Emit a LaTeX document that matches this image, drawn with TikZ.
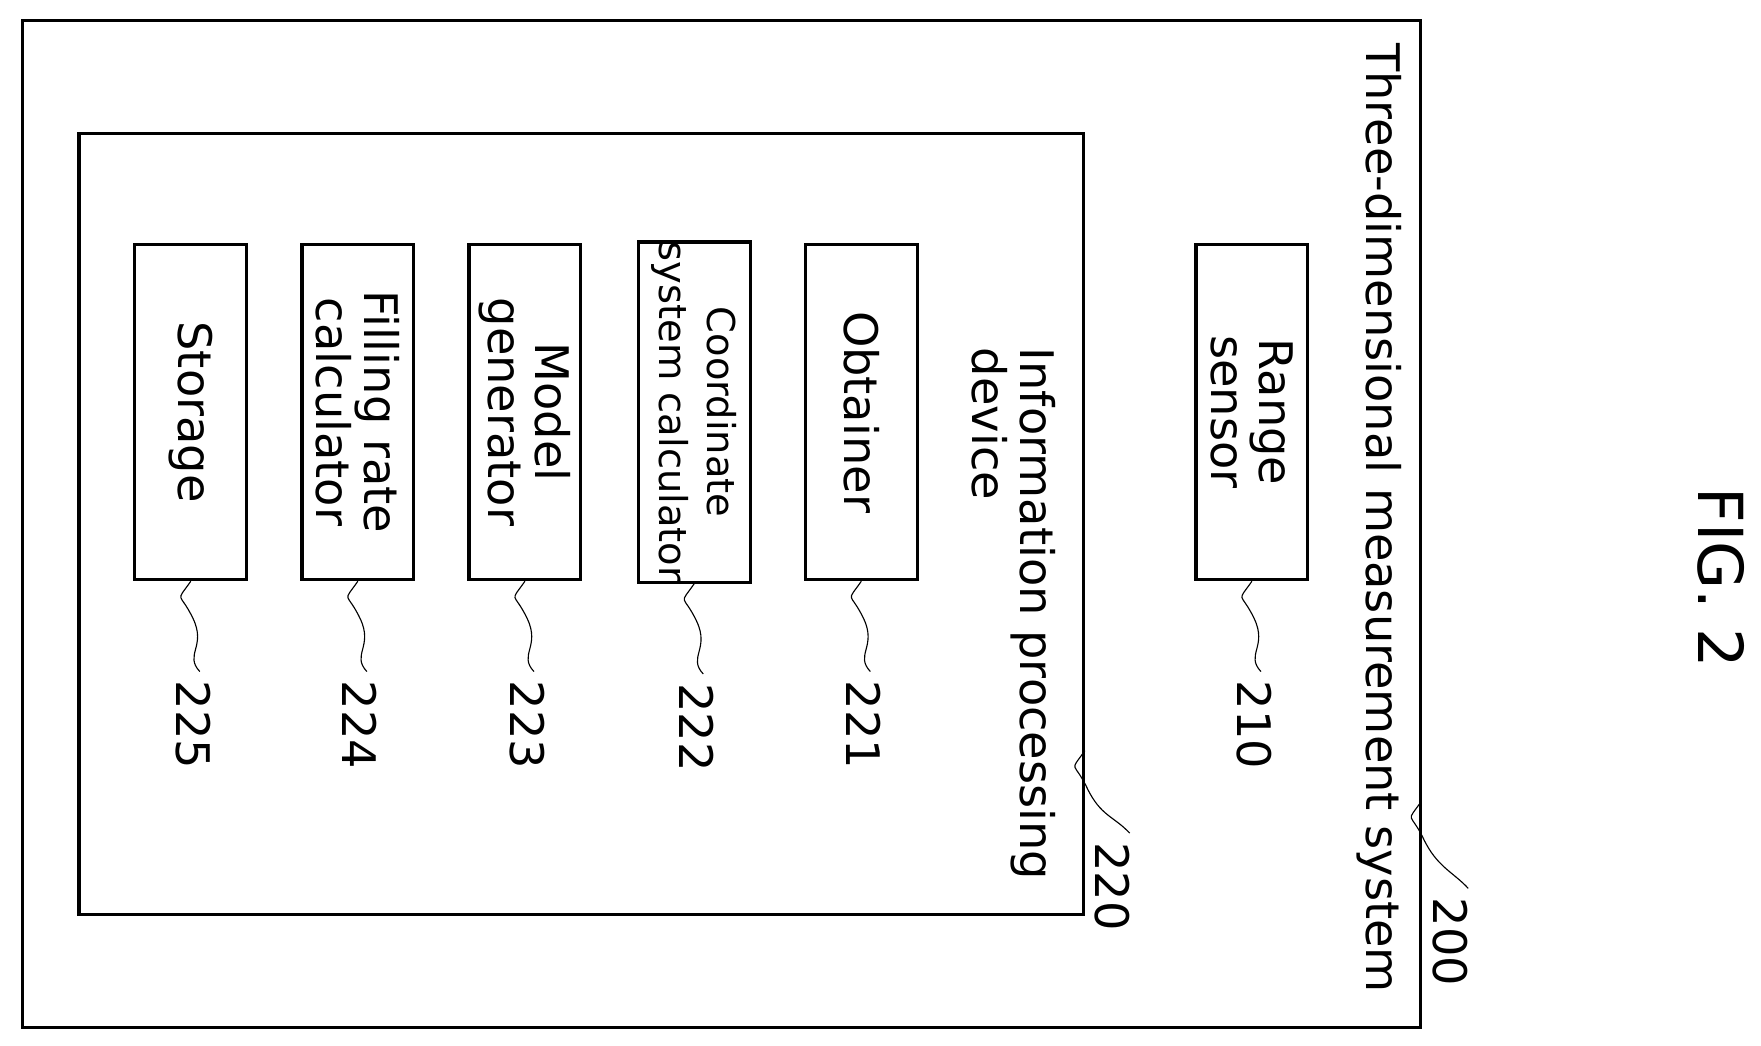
\documentclass[tikz,border=0pt]{standalone}
\usepackage{fontspec}
\setmainfont{DejaVu Sans}
\usetikzlibrary{positioning}

\tikzset{
  unit/.style={draw,line width=2.8pt,rotate=-90,minimum width=297pt,minimum height=99pt,
    inner sep=0pt,align=center,font=\fontsize{41}{42}\selectfont},
  lbl/.style={rotate=-90,anchor=west,inner sep=0pt,font=\fontsize{41}{42}\selectfont},
  lead/.style={line width=1pt}
}
% wavy leader line from a box to its reference number
\newcommand{\leader}[2]{\draw[lead] (#1) .. controls ++(-14,20) and ++(-12,-25) .. ++(2,33) .. controls ++(12,25) and ++(-14,-15) .. (#2);}

\begin{document}
\begin{tikzpicture}[x=1pt,y=-1pt]
\useasboundingbox (0,0) rectangle (1560,926);
% outer system
\draw[line width=2.8pt] (20,18) rectangle (1258,910);
\node[lbl] (systxt) at (1222,38) {Three-dimensional measurement system};
\node[lbl] (n200) at (1285,795) {200};
\coordinate (c200) at (1259,710);
\leader{c200}{[yshift=8pt]n200.north west}
% information processing device
\draw[line width=2.8pt] (70,118) rectangle (960,810);
\node[lbl,align=left] (devtxt) at (898,308) {Information processing\\device};
\node[lbl] (n220) at (985,746) {220};
\coordinate (c220) at (961,665);
\leader{c220}{[yshift=8pt]n220.north west}
% units
\node[unit] (sensor) at (1109,365) {Range\\sensor};
\node[unit] (obt) at (763,365) {Obtainer};
\node[unit] (coord) at (615,365) {\fontsize{34}{34}\selectfont Coordinate\\\fontsize{34}{34}\selectfont system calculator};
\node[unit] (model) at (465,365) {Model\\generator};
\node[unit] (fill) at (317,365) {Filling rate\\calculator};
\node[unit] (stor) at (169,365) {Storage};
\foreach \b/\n in {sensor/210,obt/221,coord/222,model/223,fill/224,stor/225}{
  \node[lbl] (n\n) at ([xshift=2pt,yshift=-88pt]\b.east) {\n};
  \leader{\b.east}{[xshift=6pt,yshift=8pt]n\n.west}
}
\node[rotate=-90,inner sep=0pt,font=\fontsize{55}{56}\selectfont] (fig) at (1525,512) {FIG. 2};
\end{tikzpicture}
\end{document}
